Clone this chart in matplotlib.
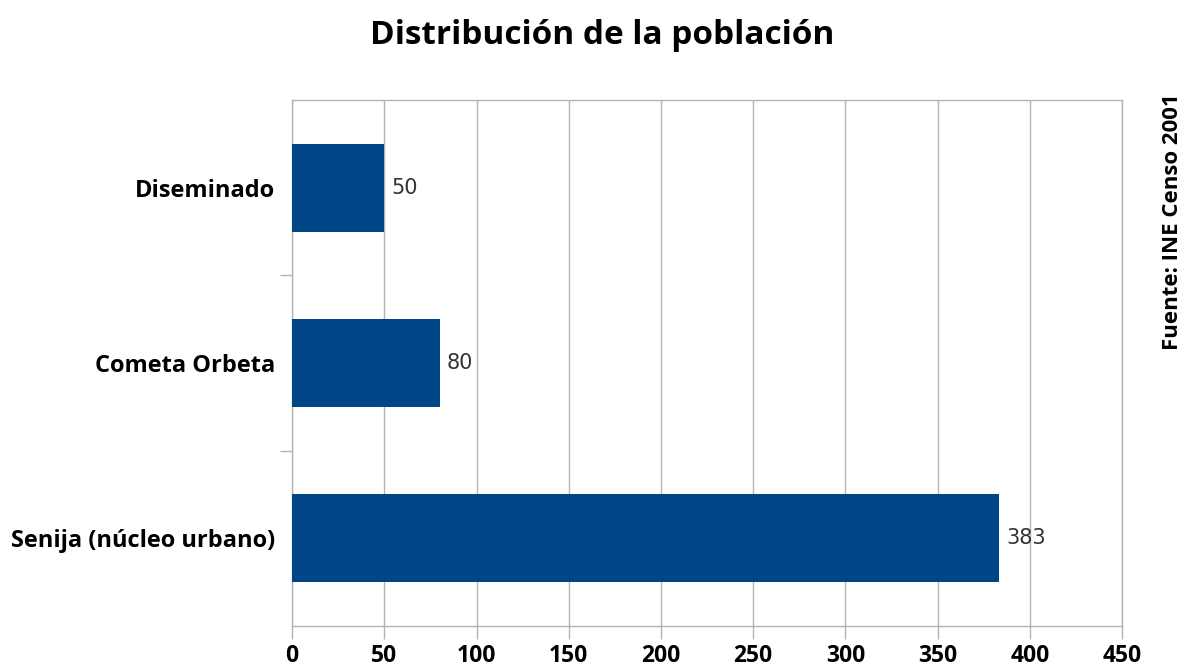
import numpy as np
from matplotlib import pyplot as plt

# population by settlement
categories = ["Senija (núcleo urbano)", "Cometa Orbeta", "Diseminado"]
values = [383, 80, 50]
x_ticks = [0, 50, 100, 150, 200, 250, 300, 350, 400, 450]

bar_color = "#004586"
grid_color = "#b3b3b3"

plt.rcParams["font.family"] = ["Open Sans", "DejaVu Sans"]

fig = plt.figure(figsize=(11.95, 6.69), dpi=100)
ax = fig.add_axes([0.2444, 0.0643, 0.9390 - 0.2444, 0.8505 - 0.0643])

pos = np.arange(len(categories))
bars = ax.barh(pos, values, height=0.5, color=bar_color, zorder=3)

for b, v in zip(bars, values):
    ax.text(b.get_width() + 4, b.get_y() + b.get_height() / 2, str(v),
            va="center", ha="left", fontsize=15, color="#333333",
            family="DejaVu Sans")

ax.set_xlim(0, 450)
ax.set_ylim(-0.5, len(categories) - 0.5)
ax.set_xticks(x_ticks)
ax.set_xticklabels([str(t) for t in x_ticks], fontsize=16.5, fontweight="bold")
ax.set_yticks(pos)
ax.set_yticklabels(categories, fontsize=17, fontweight="bold")
ax.set_yticks(pos[:-1] + 0.5, minor=True)

ax.tick_params(axis="y", which="major", length=0, pad=12)
ax.tick_params(axis="y", which="minor", length=9, color=grid_color, width=1)
ax.tick_params(axis="x", which="major", length=9, color=grid_color, width=1, pad=4)

ax.grid(axis="x", color=grid_color, linewidth=1, zorder=0)
for s in ax.spines.values():
    s.set_color(grid_color)
    s.set_linewidth(1)

fig.text(0.504, 0.947, "Distribución de la población", ha="center", va="center",
         fontsize=24, fontweight="bold")
fig.text(0.981, 0.668, "Fuente: INE Censo 2001", rotation=90,
         ha="center", va="center", fontsize=16, fontweight="bold")

fig.savefig("out.png", dpi=100, facecolor="white")
